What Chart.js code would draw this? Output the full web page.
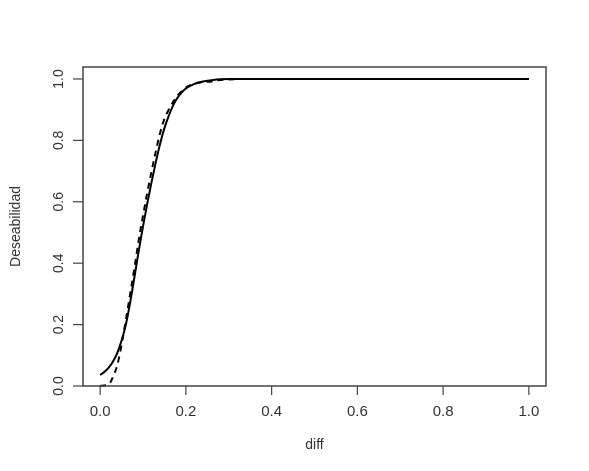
<!DOCTYPE html>
<html>
<head>
<meta charset="utf-8">
<script src="https://cdn.jsdelivr.net/npm/chart.js@4/dist/chart.umd.min.js"></script>
<style>
  html, body { margin: 0; padding: 0; background: #fff; }
  #wrap { width: 589px; height: 471px; }
</style>
</head>
<body>
<div id="wrap"><canvas id="grafico"></canvas></div>
<script>
// datos
const diffAjustada = [0, 0.01, 0.02, 0.03, 0.04, 0.05, 0.06, 0.07, 0.08, 0.09, 0.10, 0.11, 0.12, 0.13, 0.14, 0.15, 0.16, 0.17, 0.18, 0.19, 0.20, 0.22, 0.24, 0.26, 0.28, 0.30, 0.40, 0.60, 0.80, 1.0];
const deseabAjustada = [0.036, 0.046, 0.06, 0.08, 0.108, 0.148, 0.20, 0.272, 0.355, 0.44, 0.52, 0.595, 0.665, 0.73, 0.79, 0.84, 0.88, 0.913, 0.938, 0.956, 0.969, 0.984, 0.992, 0.996, 0.999, 1.0, 1.0, 1.0, 1.0, 1.0];

const diffEmpirica = [0, 0.01, 0.02, 0.025, 0.03, 0.04, 0.05, 0.06, 0.07, 0.08, 0.09, 0.10, 0.11, 0.12, 0.13, 0.14, 0.15, 0.16, 0.17, 0.18, 0.19, 0.20, 0.22, 0.24, 0.26, 0.28, 0.30, 0.34, 0.60, 1.0];
const deseabEmpirica = [0, 0.002, 0.005, 0.015, 0.03, 0.068, 0.135, 0.215, 0.30, 0.385, 0.475, 0.555, 0.63, 0.70, 0.765, 0.825, 0.87, 0.90, 0.925, 0.945, 0.96, 0.972, 0.985, 0.99, 0.992, 0.997, 0.998, 1.0, 1.0, 1.0];

const ticksX = [0, 0.2, 0.4, 0.6, 0.8, 1.0];
const ticksY = [0, 0.2, 0.4, 0.6, 0.8, 1.0];

const aPuntos = (xs, ys) => xs.map((x, i) => ({ x: x, y: ys[i] }));

const fuente = '14px "Liberation Sans", Arial, sans-serif';
const fuenteX = '15px "Liberation Sans", Arial, sans-serif';
const colorTexto = "#333";

// ejes al estilo de R: caja, marcas y etiquetas
const ejesR = {
    id: "ejesR",
    afterDraw(chart) {
        const ctx = chart.ctx;
        const area = chart.chartArea;
        const sx = chart.scales.x;
        const sy = chart.scales.y;
        ctx.save();
        ctx.strokeStyle = "#444";
        ctx.lineWidth = 1.5;
        ctx.strokeRect(area.left, area.top, area.right - area.left, area.bottom - area.top);

        ctx.fillStyle = colorTexto;
        ctx.lineWidth = 1.2;
        ctx.textAlign = "center";
        ctx.textBaseline = "middle";
        ctx.font = fuenteX;
        ticksX.forEach(v => {
            const px = sx.getPixelForValue(v);
            ctx.beginPath();
            ctx.moveTo(px, area.bottom);
            ctx.lineTo(px, area.bottom + 9);
            ctx.stroke();
            ctx.fillText(v.toFixed(1), px, area.bottom + 26);
        });
        ctx.font = fuente;
        ticksY.forEach(v => {
            const py = sy.getPixelForValue(v);
            ctx.beginPath();
            ctx.moveTo(area.left, py);
            ctx.lineTo(area.left - 10, py);
            ctx.stroke();
            ctx.save();
            ctx.translate(area.left - 24, py);
            ctx.rotate(-Math.PI / 2);
            ctx.fillText(v.toFixed(1), 0, 0);
            ctx.restore();
        });

        ctx.fillText("diff", (area.left + area.right) / 2, 445);
        ctx.save();
        ctx.translate(16, (area.top + area.bottom) / 2);
        ctx.rotate(-Math.PI / 2);
        ctx.fillText("Deseabilidad", 0, 0);
        ctx.restore();
        ctx.restore();
    }
};

new Chart(document.getElementById("grafico"), {
    type: "line",
    data: {
        datasets: [
            {
                label: "ajustada",
                data: aPuntos(diffAjustada, deseabAjustada),
                borderColor: "#000",
                borderWidth: 2,
                pointRadius: 0,
                cubicInterpolationMode: "monotone",
                fill: false,
                clip: false,
            },
            {
                label: "empirica",
                data: aPuntos(diffEmpirica, deseabEmpirica),
                borderColor: "#000",
                borderWidth: 2,
                borderDash: [6, 5],
                pointRadius: 0,
                cubicInterpolationMode: "monotone",
                fill: false,
                clip: false,
            },
        ],
    },
    options: {
        responsive: true,
        maintainAspectRatio: false,
        animation: false,
        layout: {
            padding: { left: 83, right: 43, top: 67, bottom: 85 },
        },
        plugins: {
            legend: { display: false },
            tooltip: { enabled: false },
        },
        scales: {
            x: { type: "linear", min: -0.04, max: 1.04, display: false },
            y: { type: "linear", min: 0, max: 1.039, display: false },
        },
    },
    plugins: [ejesR],
});
</script>
</body>
</html>
